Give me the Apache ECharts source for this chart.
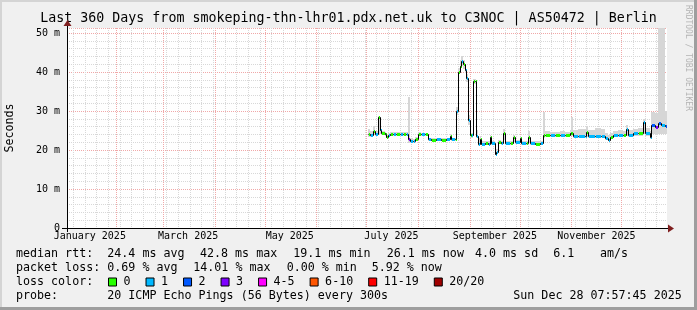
<!DOCTYPE html>
<html><head><meta charset="utf-8">
<script src="https://cdn.jsdelivr.net/npm/echarts@6/dist/echarts.min.js"></script>
<style>html,body{margin:0;padding:0;background:#f0f0f0}#c{width:697px;height:310px}</style>
</head><body><div id="c"></div>
<script>
// ---------- data ----------
const startTime = Date.UTC(2025, 0, 2, 7, 57, 45);
const endTime = Date.UTC(2025, 11, 28, 7, 57, 45);
const yMaxMs = 51.28;
const yTickLabels = ['0', '10 m', '20 m', '30 m', '40 m', '50 m'];
const xLabels = ['January 2025', 'March 2025', 'May 2025', 'July 2025', 'September 2025', 'November 2025'];
const xLabelDates = ['2025-01-16', '2025-03-16', '2025-05-16', '2025-07-16', '2025-09-16', '2025-11-16'];
const monthStarts = ['2025-02-01', '2025-03-01', '2025-04-01', '2025-05-01', '2025-06-01', '2025-07-01',
  '2025-08-01', '2025-09-01', '2025-10-01', '2025-11-01', '2025-12-01'];
const lossNames = ['0', '1', '2', '3', '4-5', '6-10', '11-19', '20/20'];
const lossColors = ['#26ff00', '#00b8ff', '#0059ff', '#7e00ff', '#ff00ff', '#ff5500', '#ff0000', '#a00000'];

const dates = ['2025-07-02','2025-07-03','2025-07-05','2025-07-06','2025-07-08','2025-07-09','2025-07-10','2025-07-12',
 '2025-07-13','2025-07-14','2025-07-15','2025-07-17','2025-07-19','2025-07-21','2025-07-23','2025-07-25','2025-07-26',
 '2025-07-27','2025-07-29','2025-07-30','2025-08-01','2025-08-03','2025-08-05','2025-08-07','2025-08-09','2025-08-12',
 '2025-08-15','2025-08-18','2025-08-20','2025-08-21','2025-08-23','2025-08-24','2025-08-25','2025-08-26','2025-08-27',
 '2025-08-28','2025-08-29','2025-08-30','2025-08-31','2025-09-01','2025-09-02','2025-09-03','2025-09-04','2025-09-05',
 '2025-09-06','2025-09-07','2025-09-08','2025-09-10','2025-09-12','2025-09-13','2025-09-14','2025-09-16','2025-09-17',
 '2025-09-18','2025-09-20','2025-09-21','2025-09-22','2025-09-25','2025-09-27','2025-09-28','2025-10-01','2025-10-02',
 '2025-10-05','2025-10-06','2025-10-07','2025-10-10','2025-10-13','2025-10-15','2025-10-16','2025-10-19','2025-10-22',
 '2025-10-25','2025-10-28','2025-10-31','2025-11-01','2025-11-02','2025-11-05','2025-11-09','2025-11-10','2025-11-11',
 '2025-11-15','2025-11-19','2025-11-21','2025-11-23','2025-11-24','2025-11-26','2025-11-29','2025-12-02','2025-12-04',
 '2025-12-05','2025-12-08','2025-12-11','2025-12-14','2025-12-15','2025-12-18','2025-12-19','2025-12-21','2025-12-23',
 '2025-12-25','2025-12-27'];
const medianMs = [24.0,23.9,24.9,24.0,28.4,25.1,24.3,24.0,
 23.4,23.8,24.0,24.1,24.0,24.0,24.1,24.0,22.8,
 22.4,22.2,22.8,24.0,24.0,24.0,22.7,22.6,22.7,
 22.6,22.7,23.5,22.7,22.7,30.1,40.1,41.5,42.8,
 42.0,40.5,38.4,27.7,23.8,23.8,37.8,37.8,23.6,
 21.5,22.8,21.6,21.7,21.6,23.3,21.7,19.1,19.5,
 22.0,21.8,24.3,21.7,21.8,23.3,22.1,23.0,21.7,
 21.7,23.3,21.7,21.6,21.7,23.8,23.8,23.8,23.8,
 23.9,23.8,24.3,24.3,23.6,23.6,23.7,24.7,23.6,
 23.6,23.7,23.0,22.6,23.4,23.8,23.8,23.8,25.3,
 23.8,24.3,24.3,27.3,24.3,23.3,26.4,26.0,27.0,
 26.3,26.1];
const lossBucket = [0,1,0,1,0,1,0,0,
 0,1,0,1,0,1,0,1,3,
 1,1,0,0,1,0,1,0,1,
 0,1,0,1,0,1,0,0,1,
 0,1,1,1,0,1,0,0,1,
 1,0,1,0,1,0,1,1,1,
 0,1,0,1,0,0,1,0,1,
 0,0,1,0,1,0,0,1,0,
 1,0,0,0,1,1,1,0,1,
 1,1,1,1,0,1,1,0,1,
 1,1,0,1,1,1,2,3,2,
 1,2];
const smokeLo = [23.4,23.4,23.8,23.5,24.0,24.2,23.8,23.5,
 23.0,23.4,23.6,23.6,23.6,23.6,23.6,23.6,21.9,
 21.9,21.8,22.3,23.6,23.6,23.6,22.3,22.3,22.3,
 22.3,22.3,22.6,22.3,22.3,29.0,39.5,40.2,41.5,
 40.8,39.8,37.5,26.5,23.2,23.2,37.0,37.0,23.0,
 21.0,21.8,21.2,21.3,21.2,21.8,21.3,18.8,19.0,
 21.5,21.3,22.5,21.3,21.3,22.0,21.6,21.8,21.3,
 21.3,22.0,21.3,21.2,21.3,23.2,23.3,23.3,23.3,
 23.3,23.3,23.5,23.5,23.2,23.2,23.2,23.4,23.2,
 23.2,23.2,22.6,22.2,23.0,23.3,23.3,23.3,23.5,
 23.3,23.6,23.6,24.0,23.6,22.8,24.0,24.0,24.2,
 24.0,24.0];
const smokeHi = [25.4,24.8,26.2,24.8,28.8,25.6,24.8,24.6,
 24.2,24.4,24.6,24.6,24.5,24.5,24.6,24.5,33.7,
 23.0,22.9,23.3,24.5,24.4,24.4,23.2,23.1,23.2,
 23.1,23.2,24.2,23.2,23.2,31.0,41.0,43.0,44.0,
 43.2,41.8,39.5,29.0,24.6,24.4,38.3,38.3,25.0,
 23.2,23.6,22.3,22.3,22.2,23.8,22.3,19.8,20.3,
 22.6,22.4,25.5,22.3,22.4,23.8,22.6,23.5,22.2,
 22.2,24.8,22.3,22.2,22.3,29.8,24.8,24.5,24.5,
 24.8,24.7,25.0,28.5,25.0,25.4,25.4,26.0,25.2,
 25.6,25.4,24.4,23.8,24.3,24.8,25.2,24.8,26.5,
 25.2,25.3,25.6,28.0,25.6,24.8,29.8,29.5,51.3,
 51.3,30.0];

// ---------- helpers ----------
const toT = s => Date.parse(s + 'T00:00:00Z');
const DAY = 86400000;
const minorTimes = [];
for (let t = toT('2025-01-06'); t < endTime; t += 7 * DAY) minorTimes.push(t);
const monthTimes = monthStarts.map(toT);
const labelTimes = xLabelDates.map(toT);

const segs = dates.map((d, i) => [toT(d), i + 1 < dates.length ? toT(dates[i + 1]) : endTime,
  medianMs[i], i > 0 ? medianMs[i - 1] : medianMs[i], lossBucket[i], smokeLo[i], smokeHi[i]]);

const FONT = 'DejaVu Sans Mono';
const crisp = v => Math.round(v) + 0.5;

const chart = echarts.init(document.getElementById('c'), null, { renderer: 'canvas' });

const baseX = { type: 'value', min: startTime, max: endTime, gridIndex: 0 };
const option = {
  animation: false,
  backgroundColor: '#f0f0f0',
  grid: { left: 67, top: 28, width: 600, height: 200, show: true, backgroundColor: '#ffffff', borderWidth: 0 },
  xAxis: [
    Object.assign({}, baseX, {
      position: 'bottom',
      axisLine: { show: false }, axisTick: { show: false },
      axisLabel: { show: true, customValues: labelTimes, margin: 3, fontFamily: FONT, fontSize: 10, color: '#000',
        formatter: v => { const i = labelTimes.indexOf(v); return i >= 0 ? xLabels[i] : ''; } },
      splitLine: { show: false }
    }),
    Object.assign({}, baseX, {
      axisLine: { show: false }, axisLabel: { show: false },
      axisTick: { show: false, customValues: minorTimes },
      splitLine: { show: true, lineStyle: { color: '#d8d8d8', width: 1, type: [1, 1] } }
    }),
    Object.assign({}, baseX, {
      axisLine: { show: false }, axisLabel: { show: false },
      axisTick: { show: false, customValues: monthTimes },
      splitLine: { show: true, lineStyle: { color: '#f0a8a8', width: 1, type: [1, 1] } }
    })
  ],
  yAxis: [
    { type: 'value', min: 0, max: yMaxMs, interval: 2,
      axisLine: { show: false }, axisTick: { show: false },
      axisLabel: { margin: 7, fontFamily: FONT, fontSize: 10, color: '#000',
        formatter: v => (Math.round(v) % 10 === 0 ? yTickLabels[Math.round(v) / 10] : '') },
      splitLine: { show: true, lineStyle: { color: '#d8d8d8', width: 1, type: [1, 1] } } },
    { type: 'value', min: 0, max: yMaxMs, interval: 10, position: 'left',
      axisLine: { show: false }, axisTick: { show: false }, axisLabel: { show: false },
      splitLine: { show: true, lineStyle: { color: '#f0a8a8', width: 1, type: [1, 1] } } }
  ],
  legend: {
    data: lossNames, left: 108, top: 276, padding: 0, itemWidth: 8, itemHeight: 8, itemGap: 15,
    icon: 'rect', selectedMode: false,
    itemStyle: { borderColor: '#000', borderWidth: 1 },
    textStyle: { fontFamily: FONT, fontSize: 11.67, color: '#000', padding: [0, 0, 0, 2] }
  },
  series: [
    {
      type: 'custom', name: 'smoke', xAxisIndex: 0, yAxisIndex: 0, clip: true,
      data: segs, encode: { x: [0, 1], y: [5, 6] },
      renderItem: (params, api) => {
        const a = api.coord([api.value(0), api.value(6)]);
        const b = api.coord([api.value(1), api.value(5)]);
        return { type: 'rect', shape: { x: Math.round(a[0]), y: Math.round(a[1]), width: Math.max(1, Math.round(b[0]) - Math.round(a[0])), height: Math.max(1, Math.round(b[1]) - Math.round(a[1])) },
          style: { fill: '#d6d6d6' } };
      }
    },
    {
      type: 'custom', name: 'median', xAxisIndex: 0, yAxisIndex: 0, clip: true,
      data: segs, encode: { x: [0, 1], y: [2, 3] },
      renderItem: (params, api) => {
        const x0 = api.value(0), x1 = api.value(1), m = api.value(2), pm = api.value(3), l = api.value(4);
        const a = api.coord([x0, m]), b = api.coord([x1, m]), p = api.coord([x0, pm]);
        const xa = crisp(a[0]), xb = crisp(b[0]), ya = crisp(a[1]), yp = crisp(p[1]);
        return { type: 'group', children: [
          { type: 'line', shape: { x1: xa, y1: yp, x2: xa, y2: ya }, style: { stroke: '#000', lineWidth: 1 } },
          { type: 'line', shape: { x1: xa, y1: ya, x2: xb, y2: ya }, style: { stroke: '#000', lineWidth: 1 } },
          { type: 'rect', shape: { x: xa + 0.5, y: ya - 1.5, width: Math.max(1, xb - xa - 1), height: 3 }, style: { fill: lossColors[l] } }
        ] };
      }
    }
  ].concat(lossNames.map((n, i) => ({ type: 'line', name: n, data: [], itemStyle: { color: lossColors[i] }, lineStyle: { color: lossColors[i] } }))),
  graphic: [
    { type: 'rect', shape: { x: 0, y: 0, width: 697, height: 2 }, style: { fill: '#d4d4d4' }, silent: true },
    { type: 'rect', shape: { x: 0, y: 0, width: 2, height: 310 }, style: { fill: '#d4d4d4' }, silent: true },
    { type: 'rect', shape: { x: 694, y: 0, width: 3, height: 310 }, style: { fill: '#9e9e9e' }, silent: true },
    { type: 'rect', shape: { x: 0, y: 307, width: 697, height: 3 }, style: { fill: '#9e9e9e' }, silent: true },
    { type: 'line', shape: { x1: 62, y1: 228.5, x2: 670, y2: 228.5 }, style: { stroke: '#000', lineWidth: 1 }, z: 10 },
    { type: 'line', shape: { x1: 67.5, y1: 232, x2: 67.5, y2: 25 }, style: { stroke: '#000', lineWidth: 1 }, z: 10 },
    { type: 'polygon', shape: { points: [[668, 224.5], [674, 228.5], [668, 232.5]] }, style: { fill: '#7f1f1f' }, z: 11 },
    { type: 'polygon', shape: { points: [[63.5, 26], [67.5, 20], [71.5, 26]] }, style: { fill: '#7f1f1f' }, z: 11 },
    { type: 'text', x: 348.5, y: 19, style: { text: 'Last 360 Days from smokeping-thn-lhr01.pdx.net.uk to C3NOC | AS50472 | Berlin',
      font: '13.3px "DejaVu Sans Mono"', fill: '#000', align: 'center', verticalAlign: 'middle' } },
    { type: 'text', x: 10, y: 128, rotation: Math.PI / 2, style: { text: 'Seconds', font: '11.67px "DejaVu Sans Mono"', fill: '#000', align: 'center', verticalAlign: 'middle' } },
    { type: 'text', x: 688, y: 5, rotation: -Math.PI / 2, style: { text: 'RRDTOOL / TOBI OETIKER', font: '8px "DejaVu Sans Mono"', fill: '#b4b4b4', align: 'left', verticalAlign: 'middle' } }
  ]
};

const statRows = [
  { y: 254, parts: ['median rtt:', '24.4 ms avg', '42.8 ms max', '19.1 ms min', '26.1 ms now', '4.0 ms sd', '6.1', 'am/s'] },
  { y: 268, parts: ['packet loss:', '0.69 % avg', '14.01 % max', '0.00 % min', '5.92 % now'] },
  { y: 282, parts: ['loss color:'] },
  { y: 296, parts: ['probe:', '20 ICMP Echo Pings (56 Bytes) every 300s', 'Sun Dec 28 07:57:45 2025'] }
];
const statX = [
  [16, 107.3, 200, 293.3, 386.7, 475, 553.3, 600],
  [16, 107.3, 193.3, 286.7, 371.7],
  [16],
  [16, 107.3, 513.3]
];
statRows.forEach((r, ri) => r.parts.forEach((t, pi) => {
  option.graphic.push({ type: 'text', x: statX[ri][pi], y: r.y, style: { text: t, font: '11.67px "DejaVu Sans Mono"', fill: '#000', align: 'left', verticalAlign: 'middle' } });
}));

chart.setOption(option);
</script>
</body></html>
